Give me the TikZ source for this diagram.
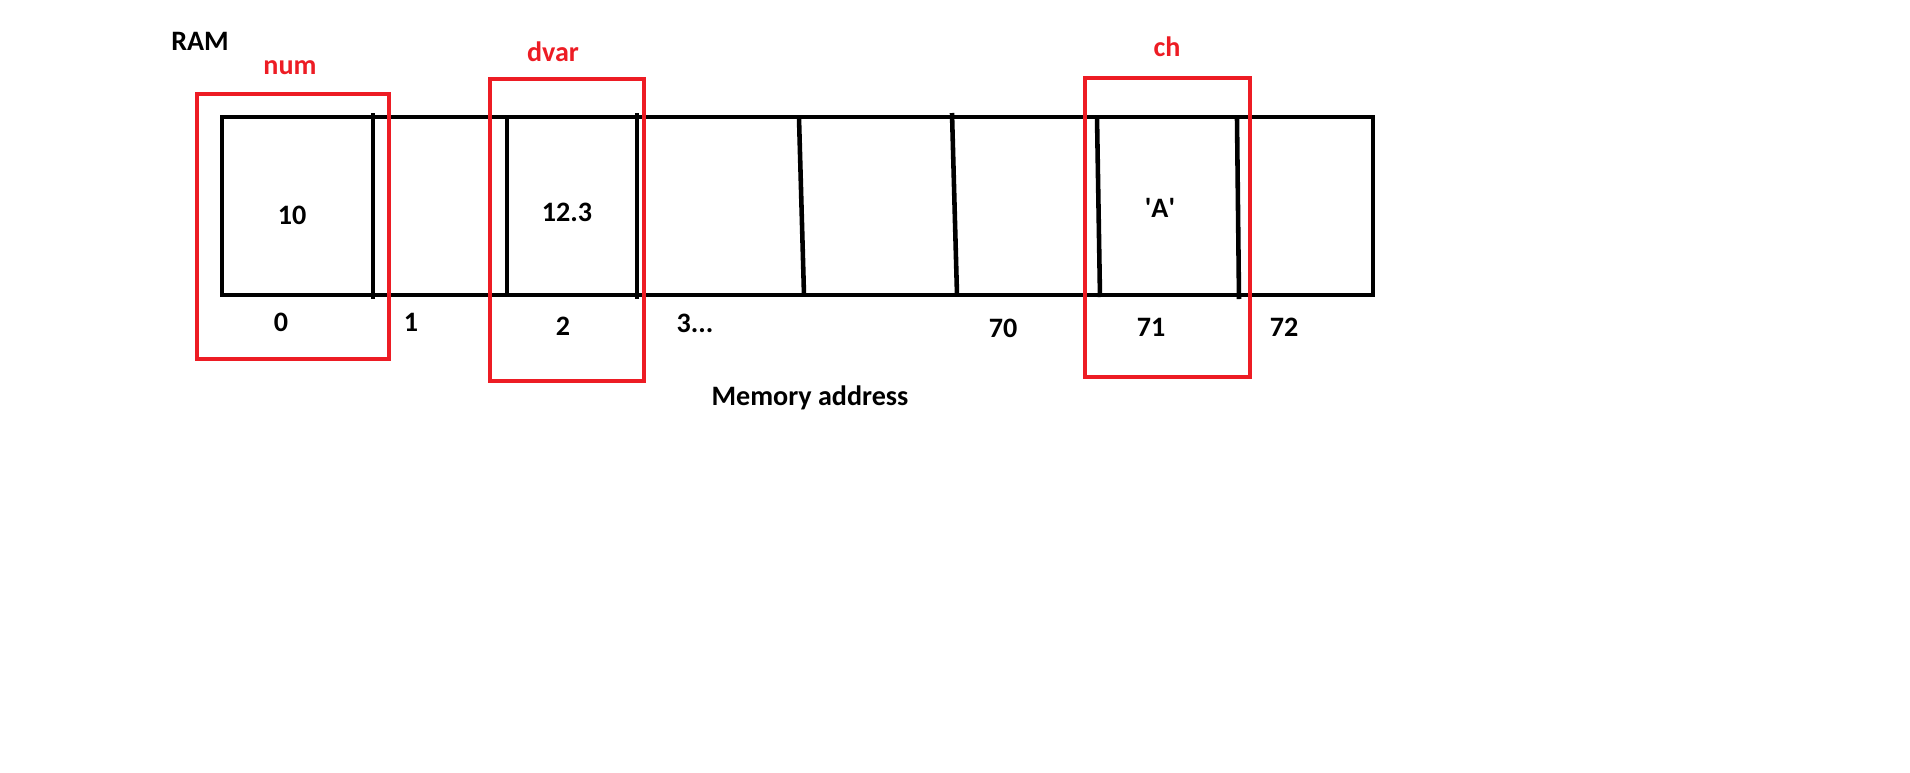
\documentclass[tikz,border=0pt]{standalone}
\usepackage{fontspec}
\setmainfont{Carlito}
\definecolor{paintred}{HTML}{ED1C24}

\begin{document}
\begin{tikzpicture}[x=0.02cm, y=-0.02cm,
    cell/.style={black, line width=2.6pt},
    varbox/.style={paintred, line width=2.6pt},
    lbl/.style={font=\fontsize{16}{18}\selectfont\bfseries, text=black},
    varname/.style={font=\fontsize{16}{18}\selectfont\bfseries, text=paintred}]
\useasboundingbox[fill=white] (0,0) rectangle (1910,772);

% memory row
\draw[cell] (222,117) rectangle (1373,295);
\draw[cell] (373,113) -- (373,299);
\draw[cell] (507,117) -- (507,295);
\draw[cell] (637,113) -- (637,299);
\draw[cell] (799,118) -- (804,295);
\draw[cell] (952,113) -- (957,295);
\draw[cell] (1097,117) -- (1100,297);
\draw[cell] (1237,119) -- (1239,299);

% variables
\draw[varbox] (197,94) rectangle (389,359);
\draw[varbox] (490,79) rectangle (644,381);
\draw[varbox] (1085,78) rectangle (1250,377);

\node[lbl] (ram) at (200,41) {RAM};
\node[varname] (num) at (290,68) {num};
\node[varname] (dvar) at (553,52) {dvar};
\node[varname] (ch) at (1167,47) {ch};

\node[lbl] (valnum) at (292,215) {10};
\node[lbl] (valdvar) at (567,212) {12.3};
\node[lbl] (valch) at (1160,208) {\textquotesingle A\textquotesingle};

\node[lbl] (addr0) at (281,322) {0};
\node[lbl] (addr1) at (411,322) {1};
\node[lbl] (addr2) at (563,326) {2};
\node[lbl] (addr3) at (695,323) {3...};
\node[lbl] (addr70) at (1003,328) {70};
\node[lbl] (addr71) at (1151,327) {71};
\node[lbl] (addr72) at (1284,327) {72};

\node[lbl] (memaddr) at (810,398) {Memory address};

\end{tikzpicture}
\end{document}
